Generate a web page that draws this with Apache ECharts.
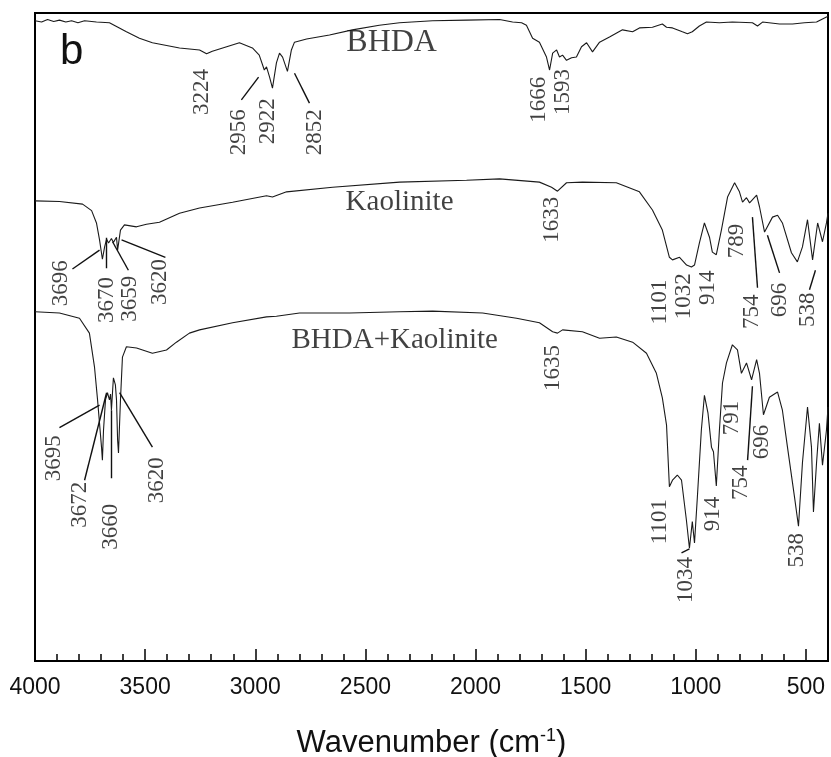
<!DOCTYPE html>
<html>
<head>
<meta charset="utf-8">
<title>FTIR spectra</title>
<script src="https://cdn.jsdelivr.net/npm/echarts@6/dist/echarts.min.js"></script>
<style>
  html, body { margin: 0; padding: 0; background: #fff; }
  #chart { width: 831px; height: 757px; }
</style>
</head>
<body>
<div id="chart"></div>
<script>
// spectra: [wavenumber (cm-1), transmittance (a.u.)]
const bhda = [[4000,98.8],[3970,98.6],[3943,99.0],[3915,98.7],[3889,98.9],[3860,98.6],[3834,98.8],[3805,98.5],[3775,98.8],[3721,98.6],[3662,98.5],[3585,97.1],[3526,96.1],[3467,95.4],[3344,94.6],[3253,94.3],[3221,93.7],[3195,94.1],[3072,95.4],[3013,94.6],[2982,93.5],[2959,91.2],[2949,91.7],[2935,90.1],[2922,88.4],[2904,92.3],[2890,93.8],[2876,93.2],[2854,91.0],[2836,94.3],[2822,95.5],[2767,96.0],[2663,96.6],[2559,97.4],[2437,98.1],[2345,98.5],[2195,98.8],[2041,98.9],[1891,99.0],[1832,98.6],[1791,98.5],[1769,98.1],[1741,96.1],[1710,95.5],[1678,93.2],[1664,91.2],[1650,93.8],[1632,94.3],[1619,93.2],[1605,93.5],[1587,92.7],[1564,93.1],[1542,93.2],[1519,94.8],[1496,95.4],[1469,94.0],[1437,95.5],[1392,96.3],[1333,97.4],[1287,97.1],[1256,97.7],[1197,97.8],[1152,98.3],[1133,97.8],[1106,97.7],[1061,97.1],[1038,96.8],[1016,97.1],[984,98.0],[952,98.6],[893,98.5],[834,98.6],[743,98.5],[720,98.0],[697,98.6],[620,98.3],[561,98.3],[507,98.5],[452,98.6],[400,99.5]];

const kaolinite = [[4000,71.0],[3889,70.9],[3784,70.5],[3743,69.5],[3721,67.6],[3707,65.0],[3694,62.0],[3684,63.9],[3675,65.1],[3666,64.5],[3653,65.2],[3644,64.6],[3630,65.4],[3625,63.4],[3612,66.5],[3594,67.3],[3539,67.0],[3494,67.4],[3435,67.7],[3344,69.1],[3253,69.9],[3103,70.8],[2949,71.8],[2922,71.6],[2858,72.4],[2649,73.1],[2345,73.9],[2041,74.2],[1891,74.4],[1710,73.9],[1655,73.1],[1628,72.5],[1587,73.8],[1515,73.9],[1361,73.8],[1256,72.4],[1197,69.6],[1152,66.5],[1120,62.3],[1106,61.9],[1074,62.3],[1042,61.1],[1020,60.8],[1006,61.1],[984,64.5],[961,67.6],[938,65.4],[925,63.1],[907,62.7],[884,66.5],[856,71.6],[824,73.8],[802,72.4],[788,70.8],[770,71.5],[756,70.7],[724,71.9],[711,70.1],[688,66.2],[652,68.5],[629,68.8],[607,67.6],[566,63.0],[539,61.6],[516,63.9],[493,68.1],[470,61.9],[447,67.6],[425,64.7],[407,67.6],[400,69.1]];

const bhdaKaolinite = [[4000,53.9],[3889,53.7],[3798,52.9],[3753,50.6],[3730,45.4],[3716,40.3],[3698,33.0],[3694,31.0],[3689,35.6],[3680,40.3],[3671,41.4],[3662,40.3],[3657,41.2],[3653,38.7],[3648,41.5],[3644,43.7],[3635,42.6],[3630,40.3],[3625,34.1],[3621,32.1],[3612,40.3],[3603,46.9],[3585,48.5],[3539,48.3],[3467,47.5],[3403,48.0],[3358,49.2],[3299,50.6],[3253,51.1],[3103,52.2],[2949,53.1],[2904,53.2],[2799,53.7],[2572,53.7],[2345,53.9],[2195,54.0],[1968,53.7],[1814,52.9],[1710,52.2],[1650,50.8],[1628,50.6],[1605,51.1],[1515,50.8],[1437,49.8],[1361,50.0],[1287,49.2],[1224,47.5],[1179,44.4],[1152,40.6],[1133,36.4],[1120,26.9],[1106,27.9],[1084,28.7],[1065,27.9],[1043,21.8],[1029,17.4],[1016,21.5],[1006,18.2],[993,25.3],[975,35.6],[961,41.0],[945,38.3],[929,33.0],[920,32.3],[907,27.0],[893,35.6],[879,42.9],[861,46.0],[834,48.8],[811,48.0],[793,44.4],[770,46.0],[747,43.4],[724,46.5],[711,44.4],[693,38.0],[666,40.7],[629,41.5],[607,38.7],[584,33.0],[552,25.3],[534,20.8],[516,30.6],[493,39.2],[475,33.0],[466,23.0],[452,30.6],[439,36.7],[425,30.2],[407,35.6],[400,39.2]];

// band labels: [text, wavenumber, transmittance] (label centre)
const bhdaPeaks = [['3224',3244,87.8],['2956',3076,81.6],['2922',2944,83.3],['2852',2731,81.6],['1666',1710,86.6],['1593',1601,87.8]];
const kaolinitePeaks = [['3696',3884,58.3],['3670',3675,55.7],['3659',3571,55.9],['3620',3435,58.5],['1633',1655,68.1],['1101',1165,55.4],['1032',1056,56.3],['914',945,57.6],['789',815,64.8],['754',745,53.9],['696',620,55.7],['538',493,54.2]];
const mixPeaks = [['3695',3916,31.3],['3672',3798,24.1],['3660',3653,20.7],['3620',3448,27.9],['1635',1650,45.2],['1101',1165,21.5],['1034',1047,12.5],['914',923,22.7],['791',834,37.5],['754',797,27.5],['696',702,33.8],['538',543,17.1]];

// leader lines from label to band
const leaders = [
  [[3063,86.6],[2985,90.1]], [[2822,90.7],[2754,86.1]],
  [[3830,60.5],[3707,63.4]], [[3675,60.6],[3675,65.3]], [[3576,60.3],[3648,64.7]], [[3408,62.3],[3607,65.0]],
  [[720,57.6],[743,68.5]], [[620,59.9],[675,65.7]], [[484,57.3],[457,60.3]],
  [[3889,36.0],[3707,39.5]], [[3775,27.9],[3675,41.4]], [[3653,28.2],[3653,38.7]], [[3467,33.0],[3616,41.4]],
  [[765,31.0],[743,42.4]], [[1065,16.7],[1029,17.3]]
];

// curve names: [text, wavenumber, transmittance]
const curveNames = [['BHDA',2381,95.5],['Kaolinite',2345,70.7],['BHDA+Kaolinite',2367,49.4]];
const curveNameSizes = [32, 29, 29];

const majorTicks = [4000, 3500, 3000, 2500, 2000, 1500, 1000, 500];
const minorTicks = [];
for (let v = 4000; v >= 400; v -= 100) minorTicks.push(v);

const serif = "'Liberation Serif', 'Times New Roman', serif";
const sans = "'Liberation Sans', Arial, sans-serif";

let myChart = echarts.init(document.getElementById('chart'), null, {renderer: 'canvas'});

function spectrum(name, data) {
  return {
    name: name,
    type: 'line',
    data: data,
    showSymbol: false,
    symbol: 'none',
    lineStyle: {color: '#1a1a1a', width: 1.1},
    silent: true,
    z: 3
  };
}

function peakLabels(list) {
  return {
    type: 'scatter',
    symbolSize: 1,
    itemStyle: {color: 'rgba(0,0,0,0)'},
    silent: true,
    data: list.map(p => ({name: p[0], value: [p[1], p[2]]})),
    label: {
      show: true,
      position: 'inside',
      formatter: '{b}',
      rotate: 90,
      align: 'center',
      verticalAlign: 'middle',
      fontFamily: serif,
      fontSize: 23,
      color: '#111'
    },
    z: 4
  };
}

let option = {
  animation: false,
  backgroundColor: '#fff',
  grid: {
    left: 35, right: 3, top: 13, bottom: 96,
    show: true, borderColor: '#000', borderWidth: 2,
    outerBoundsMode: 'none'
  },
  xAxis: [
    {
      type: 'value',
      min: 400, max: 4000, inverse: true,
      position: 'bottom',
      name: 'Wavenumber (cm{sup|-1})',
      nameLocation: 'middle',
      nameGap: 66,
      nameTextStyle: {
        fontFamily: sans, fontSize: 31, color: '#111',
        rich: {sup: {fontFamily: sans, fontSize: 18, verticalAlign: 'top', padding: [0, 0, 14, 0], color: '#111'}}
      },
      axisLine: {show: true, lineStyle: {color: '#000', width: 2}},
      axisTick: {show: true, inside: true, length: 12, lineStyle: {color: '#000', width: 1.5}, customValues: majorTicks},
      axisLabel: {
        show: true, margin: 15, fontFamily: sans, fontSize: 23, color: '#111',
        customValues: majorTicks,
        formatter: v => String(v)
      },
      splitLine: {show: false}
    },
    {
      type: 'value',
      min: 400, max: 4000, inverse: true,
      position: 'bottom',
      axisLine: {show: false},
      axisTick: {show: true, inside: true, length: 7, lineStyle: {color: '#000', width: 1.5}, customValues: minorTicks},
      axisLabel: {show: false},
      splitLine: {show: false}
    }
  ],
  yAxis: {
    type: 'value', min: 0, max: 100,
    show: false
  },
  graphic: [
    {
      type: 'text', left: 60, top: 31,
      style: {text: 'b', font: '42px ' + sans, fill: '#111'}
    }
  ],
  series: [
    spectrum('BHDA', bhda),
    spectrum('Kaolinite', kaolinite),
    spectrum('BHDA+Kaolinite', bhdaKaolinite),
    peakLabels(bhdaPeaks),
    peakLabels(kaolinitePeaks),
    peakLabels(mixPeaks),
    {
      type: 'lines',
      coordinateSystem: 'cartesian2d',
      silent: true,
      lineStyle: {color: '#111', width: 1.4, opacity: 1},
      data: leaders.map(l => ({coords: l})),
      z: 4
    },
    {
      type: 'scatter',
      symbolSize: 1,
      itemStyle: {color: 'rgba(0,0,0,0)'},
      silent: true,
      data: curveNames.map((c, i) => ({
        name: c[0], value: [c[1], c[2]],
        label: {fontSize: curveNameSizes[i]}
      })),
      label: {
        show: true, position: 'inside', formatter: '{b}',
        align: 'center', verticalAlign: 'middle',
        fontFamily: serif, fontSize: 29, color: '#111'
      },
      z: 4
    }
  ]
};

myChart.setOption(option);
</script>
</body>
</html>
